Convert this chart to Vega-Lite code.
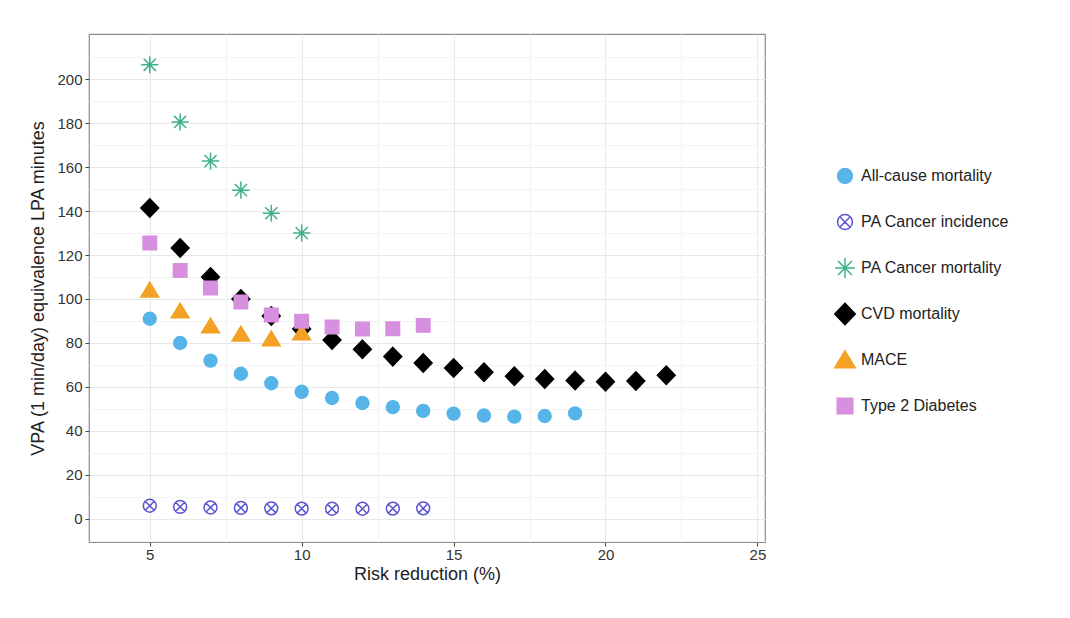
{
  "$schema": "https://vega.github.io/schema/vega-lite/v6.json",
  "width": 676,
  "height": 508,
  "autosize": {"type": "none"},
  "padding": {"left": 89, "top": 34, "right": 305, "bottom": 76},
  "background": "white",
  "config": {
    "font": "Liberation Sans",
    "view": {"stroke": "#8c8c8c", "strokeWidth": 1.2},
    "legend": {
      "orient": "none",
      "legendX": 748,
      "legendY": 134,
      "gridAlign": "all",
      "symbolSize": 200,
      "symbolStrokeWidth": 1.5,
      "labelFontSize": 16,
      "labelColor": "#222",
      "labelOffset": 8,
      "rowPadding": 18,
      "labelLimit": 300
    }
  },
  "data": {
    "values": [
      {"risk": 5, "vpa": 91, "series": "All-cause mortality"},
      {"risk": 6, "vpa": 80, "series": "All-cause mortality"},
      {"risk": 7, "vpa": 72, "series": "All-cause mortality"},
      {"risk": 8, "vpa": 66, "series": "All-cause mortality"},
      {"risk": 9, "vpa": 61.7, "series": "All-cause mortality"},
      {"risk": 10, "vpa": 57.8, "series": "All-cause mortality"},
      {"risk": 11, "vpa": 55, "series": "All-cause mortality"},
      {"risk": 12, "vpa": 52.7, "series": "All-cause mortality"},
      {"risk": 13, "vpa": 50.8, "series": "All-cause mortality"},
      {"risk": 14, "vpa": 49.1, "series": "All-cause mortality"},
      {"risk": 15, "vpa": 47.9, "series": "All-cause mortality"},
      {"risk": 16, "vpa": 47, "series": "All-cause mortality"},
      {"risk": 17, "vpa": 46.5, "series": "All-cause mortality"},
      {"risk": 18, "vpa": 46.8, "series": "All-cause mortality"},
      {"risk": 19, "vpa": 48, "series": "All-cause mortality"},
      {"risk": 5, "vpa": 6, "series": "PA Cancer incidence"},
      {"risk": 6, "vpa": 5.5, "series": "PA Cancer incidence"},
      {"risk": 7, "vpa": 5.2, "series": "PA Cancer incidence"},
      {"risk": 8, "vpa": 5, "series": "PA Cancer incidence"},
      {"risk": 9, "vpa": 4.8, "series": "PA Cancer incidence"},
      {"risk": 10, "vpa": 4.7, "series": "PA Cancer incidence"},
      {"risk": 11, "vpa": 4.6, "series": "PA Cancer incidence"},
      {"risk": 12, "vpa": 4.6, "series": "PA Cancer incidence"},
      {"risk": 13, "vpa": 4.7, "series": "PA Cancer incidence"},
      {"risk": 14, "vpa": 4.8, "series": "PA Cancer incidence"},
      {"risk": 5, "vpa": 206.5, "series": "PA Cancer mortality"},
      {"risk": 6, "vpa": 180.5, "series": "PA Cancer mortality"},
      {"risk": 7, "vpa": 162.7, "series": "PA Cancer mortality"},
      {"risk": 8, "vpa": 149.5, "series": "PA Cancer mortality"},
      {"risk": 9, "vpa": 139, "series": "PA Cancer mortality"},
      {"risk": 10, "vpa": 130, "series": "PA Cancer mortality"},
      {"risk": 5, "vpa": 141.4, "series": "CVD mortality"},
      {"risk": 6, "vpa": 123.2, "series": "CVD mortality"},
      {"risk": 7, "vpa": 110, "series": "CVD mortality"},
      {"risk": 8, "vpa": 100, "series": "CVD mortality"},
      {"risk": 9, "vpa": 92.3, "series": "CVD mortality"},
      {"risk": 10, "vpa": 86.4, "series": "CVD mortality"},
      {"risk": 11, "vpa": 81.4, "series": "CVD mortality"},
      {"risk": 12, "vpa": 77.1, "series": "CVD mortality"},
      {"risk": 13, "vpa": 73.8, "series": "CVD mortality"},
      {"risk": 14, "vpa": 70.9, "series": "CVD mortality"},
      {"risk": 15, "vpa": 68.6, "series": "CVD mortality"},
      {"risk": 16, "vpa": 66.7, "series": "CVD mortality"},
      {"risk": 17, "vpa": 64.9, "series": "CVD mortality"},
      {"risk": 18, "vpa": 63.6, "series": "CVD mortality"},
      {"risk": 19, "vpa": 62.9, "series": "CVD mortality"},
      {"risk": 20, "vpa": 62.4, "series": "CVD mortality"},
      {"risk": 21, "vpa": 62.7, "series": "CVD mortality"},
      {"risk": 22, "vpa": 65.3, "series": "CVD mortality"},
      {"risk": 5, "vpa": 104, "series": "MACE"},
      {"risk": 6, "vpa": 94.5, "series": "MACE"},
      {"risk": 7, "vpa": 87.7, "series": "MACE"},
      {"risk": 8, "vpa": 84, "series": "MACE"},
      {"risk": 9, "vpa": 81.8, "series": "MACE"},
      {"risk": 10, "vpa": 84.5, "series": "MACE"},
      {"risk": 5, "vpa": 125.5, "series": "Type 2 Diabetes"},
      {"risk": 6, "vpa": 113, "series": "Type 2 Diabetes"},
      {"risk": 7, "vpa": 105, "series": "Type 2 Diabetes"},
      {"risk": 8, "vpa": 98.6, "series": "Type 2 Diabetes"},
      {"risk": 9, "vpa": 92.7, "series": "Type 2 Diabetes"},
      {"risk": 10, "vpa": 89.9, "series": "Type 2 Diabetes"},
      {"risk": 11, "vpa": 87.3, "series": "Type 2 Diabetes"},
      {"risk": 12, "vpa": 86.4, "series": "Type 2 Diabetes"},
      {"risk": 13, "vpa": 86.5, "series": "Type 2 Diabetes"},
      {"risk": 14, "vpa": 88, "series": "Type 2 Diabetes"}
    ]
  },
  "mark": {"type": "point", "size": 150, "strokeWidth": 1.5, "opacity": 1},
  "encoding": {
    "x": {
      "field": "risk",
      "type": "quantitative",
      "title": "Risk reduction (%)",
      "scale": {"domain": [3, 25.25], "nice": false, "zero": false},
      "axis": {
        "values": [5, 7.5, 10, 12.5, 15, 17.5, 20, 22.5, 25],
        "labelExpr": "datum.value % 5 === 0 ? datum.label : ''",
        "domain": false,
        "gridColor": {"condition": {"test": "datum.value % 5 !== 0", "value": "#f4f4f4"}, "value": "#e8e8e8"},
        "tickOpacity": {"condition": {"test": "datum.value % 5 !== 0", "value": 0}, "value": 1},
        "tickColor": "#444",
        "tickSize": 4,
        "labelFontSize": 15,
        "labelColor": "#333",
        "labelPadding": 1,
        "titleFontSize": 18,
        "titleFontWeight": "normal",
        "titleColor": "#222",
        "titlePadding": 3
      }
    },
    "y": {
      "field": "vpa",
      "type": "quantitative",
      "title": "VPA (1 min/day) equivalence LPA minutes",
      "scale": {"domain": [-10.5, 220.5], "nice": false, "zero": false},
      "axis": {
        "values": [-10, 0, 10, 20, 30, 40, 50, 60, 70, 80, 90, 100, 110, 120, 130, 140, 150, 160, 170, 180, 190, 200, 210],
        "labelExpr": "datum.value % 20 === 0 ? datum.label : ''",
        "domain": false,
        "gridColor": {"condition": {"test": "datum.value % 20 !== 0", "value": "#f4f4f4"}, "value": "#e8e8e8"},
        "tickOpacity": {"condition": {"test": "datum.value % 20 !== 0", "value": 0}, "value": 1},
        "tickColor": "#444",
        "tickSize": 4,
        "labelFontSize": 15,
        "labelColor": "#333",
        "labelPadding": 3,
        "titleFontSize": 18,
        "titleFontWeight": "normal",
        "titleColor": "#222",
        "titlePadding": 9
      }
    },
    "shape": {
      "field": "series",
      "type": "nominal",
      "scale": {
        "domain": ["All-cause mortality", "PA Cancer incidence", "PA Cancer mortality", "CVD mortality", "MACE", "Type 2 Diabetes"],
        "range": [
          "M-1.05,0A1.05,1.05 0 1,1 1.05,0A1.05,1.05 0 1,1 -1.05,0Z",
          "M-1.05,0A1.05,1.05 0 1,1 1.05,0A1.05,1.05 0 1,1 -1.05,0ZM-0.74,-0.74L0.74,0.74M-0.74,0.74L0.74,-0.74",
          "M0,-1.4L0,1.4M-1.4,0L1.4,0M-0.99,-0.99L0.99,0.99M-0.99,0.99L0.99,-0.99",
          "M0,-1.5L1.45,0L0,1.5L-1.45,0Z",
          "M0,-1.3L1.45,1.1L-1.45,1.1Z",
          "M-1.1,-1.1H1.1V1.1H-1.1Z"
        ]
      },
      "legend": {"title": null}
    },
    "fill": {
      "field": "series",
      "type": "nominal",
      "scale": {
        "domain": ["All-cause mortality", "PA Cancer incidence", "PA Cancer mortality", "CVD mortality", "MACE", "Type 2 Diabetes"],
        "range": ["#56b4e9", "transparent", "transparent", "#000000", "#f3a226", "#d78fe0"]
      },
      "legend": {"title": null}
    },
    "stroke": {
      "field": "series",
      "type": "nominal",
      "scale": {
        "domain": ["All-cause mortality", "PA Cancer incidence", "PA Cancer mortality", "CVD mortality", "MACE", "Type 2 Diabetes"],
        "range": ["#56b4e9", "#5a55d0", "#3fb08c", "#000000", "#f3a226", "#d78fe0"]
      },
      "legend": {"title": null}
    }
  }
}
